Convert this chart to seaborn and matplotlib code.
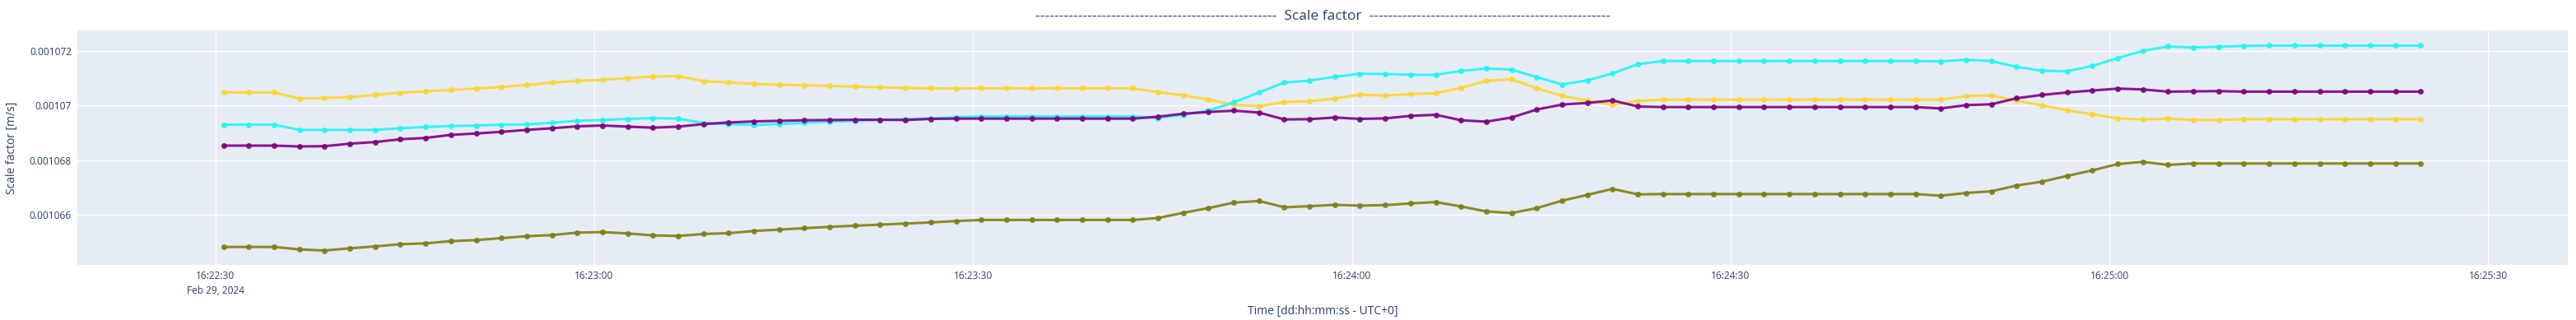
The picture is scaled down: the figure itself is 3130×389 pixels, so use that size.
import pandas as pd
import seaborn as sns
import matplotlib.pyplot as plt
import matplotlib.dates as mdates
import numpy as np

# sample times: every 2 s starting 16:22:30.65
start = pd.Timestamp('2024-02-29 16:22:30.650')
n_points = 88

# values, in units of 1e-6 m/s
gold = [1070.485, 1070.485, 1070.485, 1070.263, 1070.283, 1070.313, 1070.394, 1070.475, 1070.525, 1070.576, 1070.626, 1070.687, 1070.758,
        1070.848, 1070.909, 1070.949, 1071.010, 1071.071, 1071.081, 1070.899, 1070.859, 1070.798, 1070.768, 1070.747, 1070.727,
        1070.697, 1070.677, 1070.646, 1070.636, 1070.626, 1070.636, 1070.636, 1070.636, 1070.636, 1070.636, 1070.636, 1070.636, 1070.495,
        1070.384, 1070.222, 1070.040, 1069.980, 1070.131, 1070.162, 1070.263, 1070.404, 1070.374, 1070.424, 1070.455, 1070.657, 1070.909,
        1070.970, 1070.636, 1070.364, 1070.182, 1070.030, 1070.172, 1070.222, 1070.222, 1070.222, 1070.222, 1070.222, 1070.222,
        1070.222, 1070.222, 1070.222, 1070.222, 1070.222, 1070.222, 1070.354, 1070.374, 1070.182, 1070.010, 1069.828, 1069.687, 1069.535,
        1069.495, 1069.525, 1069.475, 1069.475, 1069.505, 1069.505, 1069.505, 1069.505, 1069.505, 1069.505, 1069.505, 1069.505]

cyan = [1069.303, 1069.303, 1069.303, 1069.111, 1069.111, 1069.111, 1069.111, 1069.172, 1069.222, 1069.253, 1069.273, 1069.303, 1069.313,
        1069.374, 1069.444, 1069.475, 1069.515, 1069.545, 1069.525, 1069.364, 1069.323, 1069.293, 1069.323, 1069.374, 1069.414,
        1069.444, 1069.475, 1069.505, 1069.535, 1069.576, 1069.606, 1069.606, 1069.606, 1069.606, 1069.606, 1069.606, 1069.606, 1069.545,
        1069.667, 1069.818, 1070.121, 1070.485, 1070.848, 1070.919, 1071.061, 1071.172, 1071.162, 1071.131, 1071.131, 1071.273, 1071.364,
        1071.323, 1071.051, 1070.778, 1070.929, 1071.182, 1071.525, 1071.636, 1071.636, 1071.636, 1071.636, 1071.636, 1071.636,
        1071.636, 1071.636, 1071.636, 1071.636, 1071.636, 1071.626, 1071.687, 1071.636, 1071.424, 1071.283, 1071.263, 1071.455, 1071.747,
        1072.010, 1072.172, 1072.131, 1072.162, 1072.192, 1072.202, 1072.202, 1072.202, 1072.202, 1072.202, 1072.202, 1072.202]

purple = [1068.535, 1068.535, 1068.535, 1068.505, 1068.515, 1068.606, 1068.667, 1068.768, 1068.818, 1068.929, 1068.980, 1069.040, 1069.111,
          1069.172, 1069.242, 1069.273, 1069.232, 1069.192, 1069.232, 1069.323, 1069.384, 1069.424, 1069.444, 1069.465, 1069.475,
          1069.485, 1069.485, 1069.475, 1069.515, 1069.525, 1069.525, 1069.525, 1069.525, 1069.525, 1069.525, 1069.525, 1069.525, 1069.596,
          1069.707, 1069.768, 1069.818, 1069.747, 1069.495, 1069.505, 1069.566, 1069.515, 1069.535, 1069.626, 1069.667, 1069.465, 1069.414,
          1069.566, 1069.859, 1070.040, 1070.101, 1070.192, 1069.970, 1069.949, 1069.949, 1069.949, 1069.949, 1069.949, 1069.949,
          1069.949, 1069.949, 1069.949, 1069.949, 1069.949, 1069.899, 1070.020, 1070.051, 1070.273, 1070.394, 1070.485, 1070.556, 1070.626,
          1070.596, 1070.515, 1070.525, 1070.535, 1070.515, 1070.515, 1070.515, 1070.515, 1070.515, 1070.515, 1070.515, 1070.515]

olive = [1064.818, 1064.818, 1064.818, 1064.727, 1064.687, 1064.768, 1064.838, 1064.919, 1064.949, 1065.030, 1065.071, 1065.141, 1065.212,
         1065.253, 1065.343, 1065.364, 1065.313, 1065.242, 1065.222, 1065.293, 1065.323, 1065.404, 1065.455, 1065.505, 1065.556,
         1065.596, 1065.636, 1065.677, 1065.717, 1065.768, 1065.808, 1065.808, 1065.808, 1065.808, 1065.808, 1065.808, 1065.808, 1065.879,
         1066.071, 1066.242, 1066.444, 1066.505, 1066.273, 1066.313, 1066.364, 1066.333, 1066.354, 1066.414, 1066.465, 1066.303, 1066.121,
         1066.061, 1066.242, 1066.515, 1066.727, 1066.949, 1066.747, 1066.758, 1066.758, 1066.758, 1066.758, 1066.758, 1066.758,
         1066.758, 1066.758, 1066.758, 1066.758, 1066.758, 1066.697, 1066.798, 1066.859, 1067.071, 1067.212, 1067.424, 1067.626, 1067.859,
         1067.939, 1067.828, 1067.879, 1067.879, 1067.879, 1067.879, 1067.879, 1067.879, 1067.879, 1067.879, 1067.879, 1067.879]

series_names = ['gold', 'cyan', 'purple', 'olive']
series_colors = ['#FFD530', '#22F5F5', '#800080', '#7F7F10']

x_ticks = ['2024-02-29 16:22:30', '2024-02-29 16:23:00', '2024-02-29 16:23:30', '2024-02-29 16:24:00',
           '2024-02-29 16:24:30', '2024-02-29 16:25:00', '2024-02-29 16:25:30']
x_tick_labels = ['16:22:30\nFeb 29, 2024', '16:23:00', '16:23:30', '16:24:00', '16:24:30', '16:25:00', '16:25:30']
y_ticks = [0.001066, 0.001068, 0.00107, 0.001072]

times = pd.date_range(start, periods=n_points, freq='2s')
frames = []
for name, vals in zip(series_names, [gold, cyan, purple, olive]):
    frames.append(pd.DataFrame({'time': times, 'value': np.array(vals) * 1e-6, 'series': name}))
df = pd.concat(frames, ignore_index=True)

sns.set_style('darkgrid', {'axes.facecolor': '#E5ECF6', 'grid.color': 'white'})
plt.rcParams['font.family'] = ['Open Sans', 'DejaVu Sans']
text_color = '#2a3f5f'

fig, ax = plt.subplots(figsize=(31.3, 3.89), dpi=100)
fig.subplots_adjust(left=94 / 3130, right=3120 / 3130, top=1 - 37 / 389, bottom=1 - 322 / 389)

sns.lineplot(data=df, x='time', y='value', hue='series', hue_order=series_names,
             palette=series_colors, marker='o', markersize=5, markeredgewidth=0,
             linewidth=2.2, alpha=0.9, legend=False, ax=ax)

ax.set_xlim(pd.Timestamp('2024-02-29 16:22:19.07'), pd.Timestamp('2024-02-29 16:25:36.3'))
ax.set_ylim(0.00106416, 0.00107276)
ax.set_xticks([mdates.date2num(pd.Timestamp(t)) for t in x_ticks])
ax.set_xticklabels(x_tick_labels)
ax.set_yticks(y_ticks)
ax.set_yticklabels([f'{v:.6f}'.rstrip('0') for v in y_ticks])
ax.grid(True, color='white', linewidth=1)
for s in ax.spines.values():
    s.set_visible(False)
ax.tick_params(axis='both', length=0, labelsize=8.6, colors=text_color, pad=5)
for lab in ax.get_xticklabels():
    lab.set_linespacing(1.5)

ax.set_xlabel('Time [dd:hh:mm:ss - UTC+0]', fontsize=10, color=text_color, labelpad=8)
ax.set_ylabel('Scale factor [m/s]', fontsize=10, color=text_color, labelpad=10)
dashes = '-' * 51
ax.set_title(f'{dashes}  Scale factor  {dashes}', fontsize=12.6, color=text_color, pad=9)

fig.savefig('out.png', dpi=100)
